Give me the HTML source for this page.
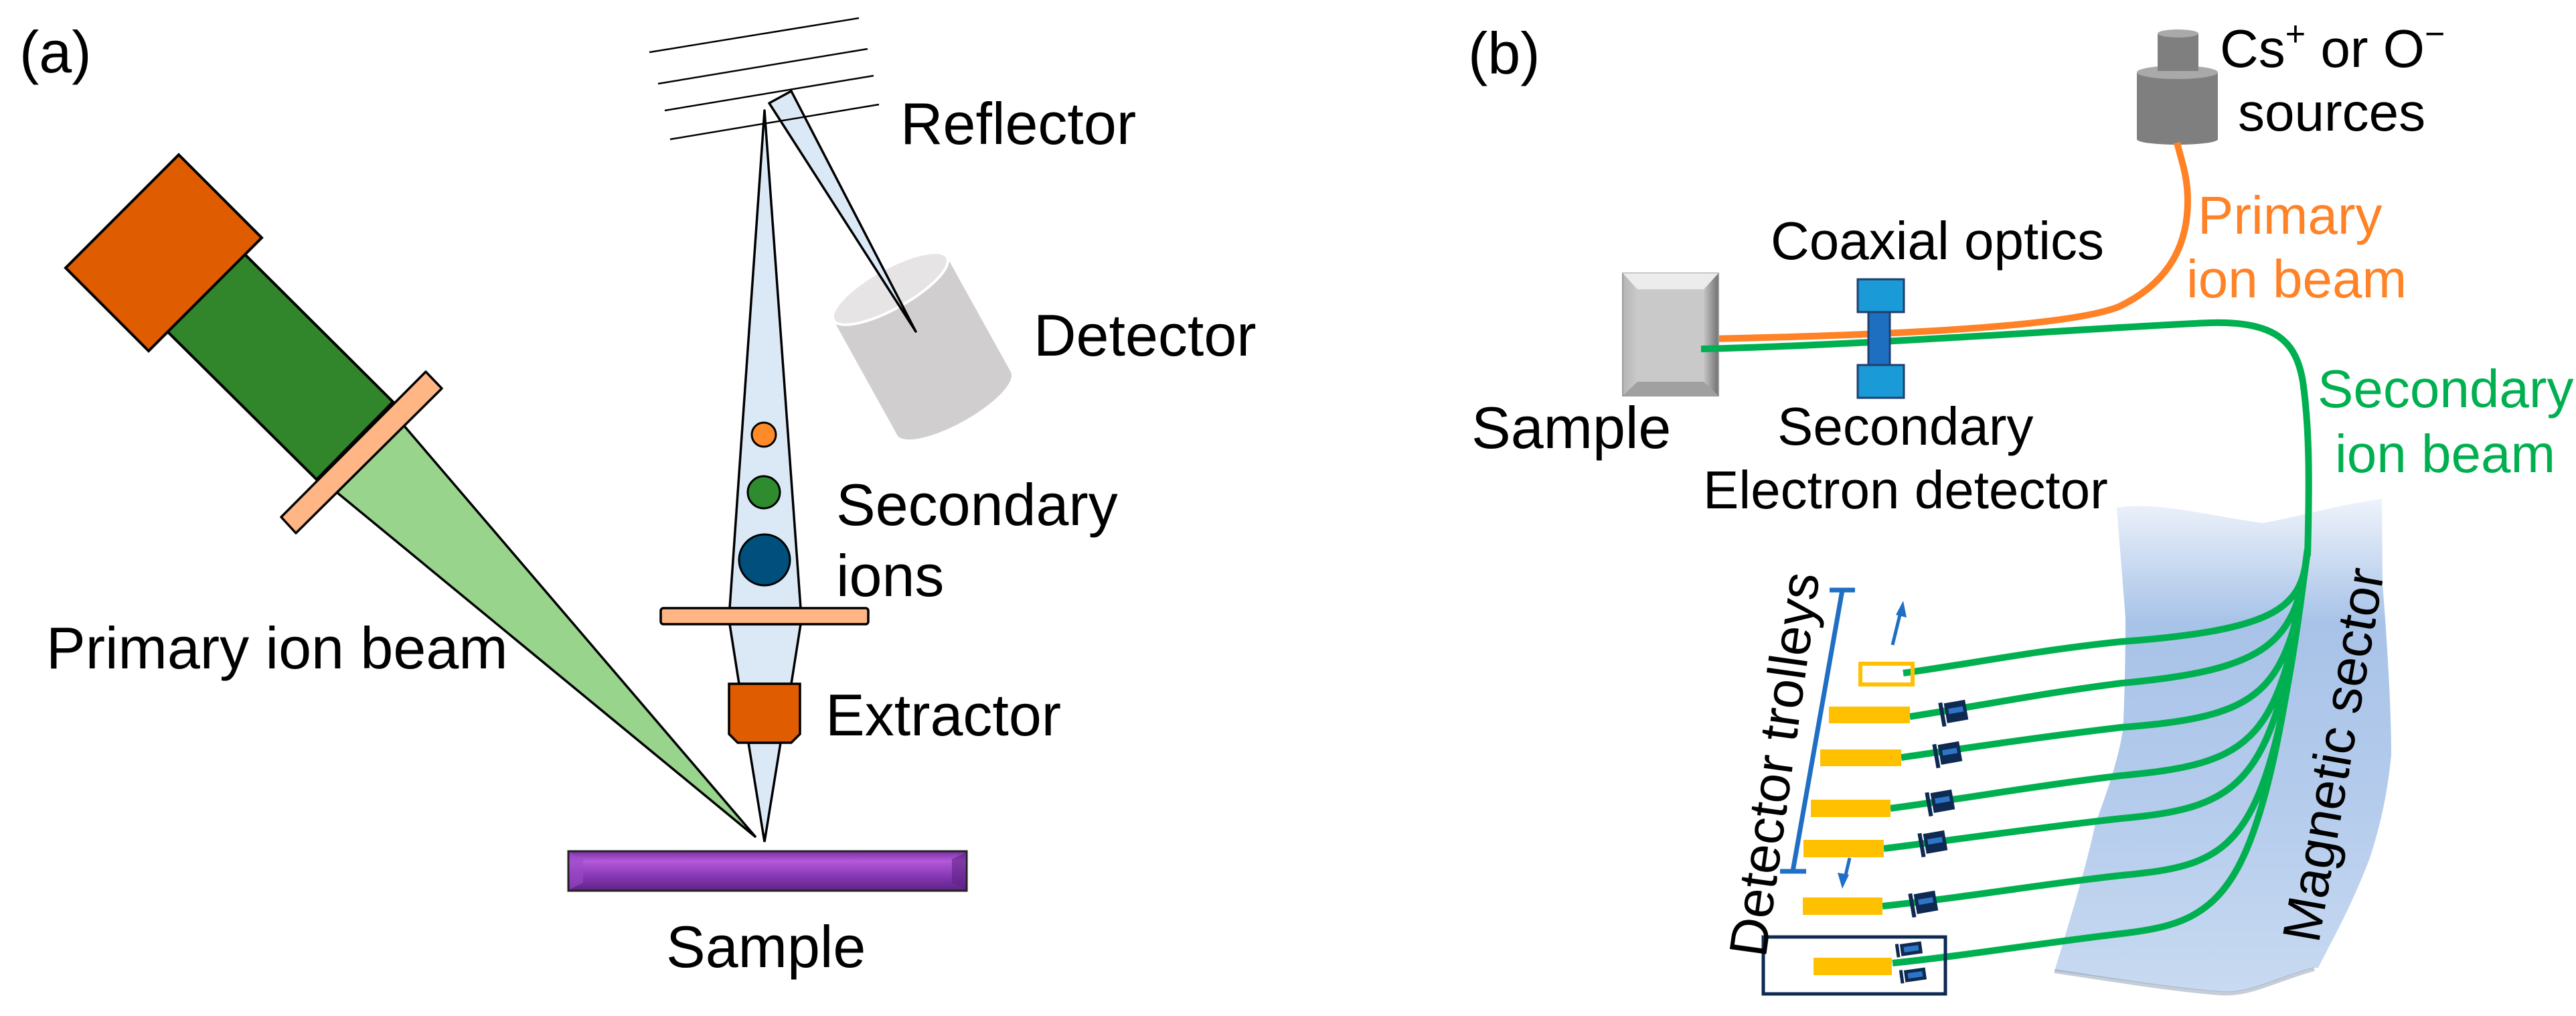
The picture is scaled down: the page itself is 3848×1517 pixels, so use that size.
<!DOCTYPE html>
<html><head><meta charset="utf-8"><style>
html,body{margin:0;padding:0;background:#fff;}
svg{display:block;}
text{font-family:"Liberation Sans",Arial,sans-serif;}
</style></head><body>
<svg width="3848" height="1517" viewBox="0 0 3848 1517" xmlns="http://www.w3.org/2000/svg">
<defs>
<linearGradient id="pur" x1="0" y1="0" x2="0" y2="1">
<stop offset="0" stop-color="#7a2fa6"/><stop offset="0.25" stop-color="#b35ad8"/><stop offset="0.6" stop-color="#8a3ab9"/><stop offset="1" stop-color="#5e2383"/></linearGradient>
<linearGradient id="mag" x1="0" y1="0" x2="0" y2="1">
<stop offset="0" stop-color="#eef3fb"/><stop offset="0.25" stop-color="#a8c3e8"/><stop offset="0.6" stop-color="#b4cbec"/><stop offset="1" stop-color="#c8daf1"/></linearGradient>
<linearGradient id="gry" x1="0" y1="0" x2="1" y2="0">
<stop offset="0" stop-color="#b5b5b5"/><stop offset="0.2" stop-color="#cfcfcf"/><stop offset="0.85" stop-color="#c4c4c4"/><stop offset="1" stop-color="#707070"/></linearGradient>
</defs>

<!-- (a) panel -->
<text x="29" y="108" font-size="88">(a)</text>
<polygon points="365,379 587,600 473,716 250,495" fill="#31862b" stroke="#000" stroke-width="4"/>
<polygon points="267,231 391,355 222,524 98,400" fill="#e05c00" stroke="#000" stroke-width="4"/>
<polygon points="603,635 503,735 1129,1250" fill="#98d48c" stroke="#000" stroke-width="3.5"/>
<polygon points="636,555 660,580 442,796 420,772" fill="#ffb584" stroke="#000" stroke-width="3.5" stroke-linejoin="round"/>

<!-- detector cylinder -->
<g transform="translate(1330,431) rotate(-29)">
<path d="M-97,0 L-97,196 A97,30 0 0 0 97,196 L97,0 Z" fill="#d1cecf"/>
<ellipse cx="0" cy="0" rx="97" ry="30" fill="#e6e4e5" stroke="#fff" stroke-width="4"/>
</g>

<!-- secondary beam -->
<polygon points="1142,165 1196,908 1090,908" fill="#dbe9f6" stroke="#000" stroke-width="3.5" stroke-linejoin="round"/>
<polygon points="1090,932 1196,932 1182,1021 1104,1021" fill="#dbe9f6" stroke="#000" stroke-width="3.5"/>
<polygon points="1118,1109 1166,1109 1142,1257" fill="#dbe9f6" stroke="#000" stroke-width="3.5"/>
<polygon points="1149,154 1182,136 1368,495" fill="#dbe9f6" stroke="#000" stroke-width="3.5" stroke-linejoin="round"/>
<circle cx="1141" cy="649" r="18" fill="#ff8a2a" stroke="#000" stroke-width="3"/>
<circle cx="1141" cy="735" r="24" fill="#2e8b2e" stroke="#000" stroke-width="3"/>
<circle cx="1142" cy="836" r="38" fill="#004f7c" stroke="#000" stroke-width="3"/>
<rect x="987" y="908" width="310" height="24" rx="4" fill="#ffb584" stroke="#000" stroke-width="3.5"/>
<polygon points="1089,1021 1195,1021 1195,1096 1182,1109 1102,1109 1089,1096" fill="#e05c00" stroke="#000" stroke-width="3.5"/>
<rect x="849" y="1271" width="595" height="59" fill="url(#pur)" stroke="#222" stroke-width="3"/>
<polygon points="851,1273 871,1283 871,1318 851,1328" fill="#9b4bc6" opacity="0.6"/>
<polygon points="1442,1273 1422,1283 1422,1318 1442,1328" fill="#5e2383" opacity="0.6"/>

<g stroke="#000" stroke-width="2.5">
<line x1="970" y1="78" x2="1283" y2="27"/>
<line x1="983" y1="125" x2="1296" y2="73"/>
<line x1="993" y1="165" x2="1305" y2="113"/>
<line x1="1001" y1="208" x2="1313" y2="156"/>
</g>

<text x="1345" y="215" font-size="88">Reflector</text>
<text x="1544" y="531" font-size="88">Detector</text>
<text x="1249" y="784" font-size="88">Secondary</text>
<text x="1249" y="890" font-size="88">ions</text>
<text x="1233" y="1098" font-size="88">Extractor</text>
<text x="69" y="998" font-size="88">Primary ion beam</text>
<text x="995" y="1444" font-size="88">Sample</text>

<!-- (b) panel -->
<text x="2193" y="110" font-size="88">(b)</text>

<!-- magnetic sector -->
<path d="M3162,758 C3220,748 3300,770 3380,781 C3440,770 3500,752 3558,745 L3559,871 C3565,950 3572,1050 3572,1127 C3565,1200 3550,1250 3540,1281 C3510,1360 3480,1410 3463,1445 L3457,1445 C3400,1460 3360,1485 3316,1481 C3240,1475 3150,1460 3069,1450 C3090,1380 3115,1300 3130,1230 C3160,1150 3172,1100 3172,1076 C3175,1000 3175,950 3175,922 Z" fill="url(#mag)"/>
<path d="M3069,1450 C3150,1462 3240,1477 3316,1483 C3360,1487 3400,1462 3457,1447" fill="none" stroke="#8c9bb0" stroke-width="6" opacity="0.5"/>

<!-- source -->
<rect x="3192" y="108" width="121" height="100" fill="#7f7f7f"/>
<ellipse cx="3252.5" cy="208" rx="60.5" ry="8" fill="#7f7f7f"/>
<ellipse cx="3252.5" cy="108" rx="60.5" ry="10" fill="#a9a9a9"/>
<rect x="3223" y="50" width="61" height="56" fill="#7f7f7f"/>
<ellipse cx="3253.5" cy="50" rx="30.5" ry="6" fill="#a9a9a9"/>

<!-- orange primary beam -->
<path d="M2552,506 C2750,502 3080,492 3165,458 C3245,420 3268,360 3268,300 C3268,262 3258,238 3252,213" fill="none" stroke="#ff8227" stroke-width="10"/>

<!-- sample block -->
<rect x="2424" y="408" width="143" height="183" fill="url(#gry)" stroke="#9a9a9a" stroke-width="2"/>
<polygon points="2424,408 2567,408 2545,432 2446,432" fill="#ececec"/>
<polygon points="2424,591 2567,591 2545,570 2446,570" fill="#a0a0a0"/>
<rect x="2446" y="432" width="99" height="138" fill="#c9c9c9"/>

<!-- green secondary beam -->
<path d="M2541,521 C2800,515 3150,488 3300,482 C3400,479 3430,510 3440,570 C3450,640 3450,720 3447,830" fill="none" stroke="#00b050" stroke-width="10"/>

<!-- coaxial optics -->
<rect x="2791" y="466" width="32" height="79" fill="#1e6fc0" stroke="#1f3f6e" stroke-width="3"/>
<rect x="2775" y="417" width="69" height="49" fill="#1a9ad6" stroke="#1f3f6e" stroke-width="3"/>
<rect x="2775" y="545" width="69" height="49" fill="#1a9ad6" stroke="#1f3f6e" stroke-width="3"/>

<!-- fan lines -->
<g fill="none" stroke="#00b050" stroke-width="10">
<path d="M3447,820 C3440,905 3410,940 3169,958 C3050,970 2950,990 2843,1005"/>
<path d="M3447,820 C3432,960 3390,1000 3169,1020 C3050,1035 2950,1055 2853,1070"/>
<path d="M3447,820 C3422,1040 3375,1070 3169,1086 C3050,1100 2950,1115 2840,1131"/>
<path d="M3447,820 C3412,1110 3365,1140 3169,1158 C3050,1172 2950,1190 2824,1207"/>
<path d="M3447,820 C3402,1170 3355,1205 3169,1222 C3050,1235 2950,1250 2814,1267"/>
<path d="M3447,820 C3392,1270 3345,1290 3169,1307 C3050,1320 2950,1338 2812,1353"/>
<path d="M3447,820 C3380,1330 3335,1375 3169,1394 C3050,1408 2950,1425 2827,1438"/>
</g>

<!-- detector bars -->
<g fill="#ffc000">
<rect x="2732" y="1055" width="121" height="25"/>
<rect x="2719" y="1119" width="121" height="25"/>
<rect x="2705" y="1194" width="119" height="26"/>
<rect x="2694" y="1254" width="120" height="26"/>
<rect x="2693" y="1340" width="119" height="26"/>
<rect x="2709" y="1430" width="117" height="26"/>
</g>
<rect x="2779" y="991" width="78" height="31" fill="none" stroke="#ffc000" stroke-width="6"/>
<rect x="2634" y="1399" width="272" height="85" fill="none" stroke="#0e2a52" stroke-width="5"/>

<!-- small detectors -->
<g id="sd">
<g transform="translate(2918,1063) rotate(-10)"><rect x="-20" y="-17" width="6" height="36" fill="#0e2a52"/><rect x="-12" y="-15" width="32" height="30" fill="#0e2a52"/><rect x="-7" y="-6" width="22" height="8" fill="#2e75c8"/></g>
<g transform="translate(2909,1125) rotate(-10)"><rect x="-20" y="-17" width="6" height="36" fill="#0e2a52"/><rect x="-12" y="-15" width="32" height="30" fill="#0e2a52"/><rect x="-7" y="-6" width="22" height="8" fill="#2e75c8"/></g>
<g transform="translate(2898,1197) rotate(-10)"><rect x="-20" y="-17" width="6" height="36" fill="#0e2a52"/><rect x="-12" y="-15" width="32" height="30" fill="#0e2a52"/><rect x="-7" y="-6" width="22" height="8" fill="#2e75c8"/></g>
<g transform="translate(2887,1258) rotate(-10)"><rect x="-20" y="-17" width="6" height="36" fill="#0e2a52"/><rect x="-12" y="-15" width="32" height="30" fill="#0e2a52"/><rect x="-7" y="-6" width="22" height="8" fill="#2e75c8"/></g>
<g transform="translate(2873,1348) rotate(-10)"><rect x="-20" y="-17" width="6" height="36" fill="#0e2a52"/><rect x="-12" y="-15" width="32" height="30" fill="#0e2a52"/><rect x="-7" y="-6" width="22" height="8" fill="#2e75c8"/></g>
<g transform="translate(2852,1417) rotate(-8)"><rect x="-20" y="-10" width="5" height="20" fill="#0e2a52"/><rect x="-13" y="-9" width="32" height="18" fill="#0e2a52"/><rect x="-8" y="-4" width="22" height="8" fill="#2e75c8"/></g>
<g transform="translate(2858,1456) rotate(-8)"><rect x="-20" y="-10" width="5" height="20" fill="#0e2a52"/><rect x="-13" y="-9" width="32" height="18" fill="#0e2a52"/><rect x="-8" y="-4" width="22" height="8" fill="#2e75c8"/></g>
</g>

<!-- trolley bar & arrows -->
<g stroke="#1f6fc5" stroke-width="7" fill="none">
<line x1="2752" y1="881" x2="2678" y2="1301"/>
<line x1="2733" y1="881" x2="2771" y2="881"/>
<line x1="2659" y1="1301" x2="2698" y2="1301"/>
<line x1="2827" y1="963" x2="2840" y2="910" stroke-width="5"/>
<line x1="2763" y1="1281" x2="2755" y2="1315" stroke-width="5"/>
</g>
<polygon points="2843,897 2848,922 2832,918" fill="#1f6fc5"/>
<polygon points="2752,1327 2745,1303 2762,1306" fill="#1f6fc5"/>

<!-- labels (b) -->
<text x="2198" y="669" font-size="88">Sample</text>
<text x="2645" y="387" font-size="80">Coaxial optics</text>
<text x="2655" y="664" font-size="80">Secondary</text>
<text x="2544" y="759" font-size="80">Electron detector</text>
<text x="3316" y="100" font-size="80">Cs<tspan font-size="52" dy="-32">+</tspan><tspan dy="32"> or O</tspan><tspan font-size="52" dy="-32">−</tspan></text>
<text x="3343" y="195" font-size="80">sources</text>
<text x="3283" y="349" font-size="80" fill="#ff8227">Primary</text>
<text x="3266" y="444" font-size="80" fill="#ff8227">ion beam</text>
<text x="3462" y="608" font-size="80" fill="#00b050">Secondary</text>
<text x="3488" y="705" font-size="80" fill="#00b050">ion beam</text>
<text transform="translate(2650,1141) rotate(-82)" text-anchor="middle" font-size="80" y="28">Detector trolleys</text>
<text transform="translate(3485,1127) rotate(-80)" text-anchor="middle" font-size="80" y="28">Magnetic sector</text>
</svg>
</body></html>
